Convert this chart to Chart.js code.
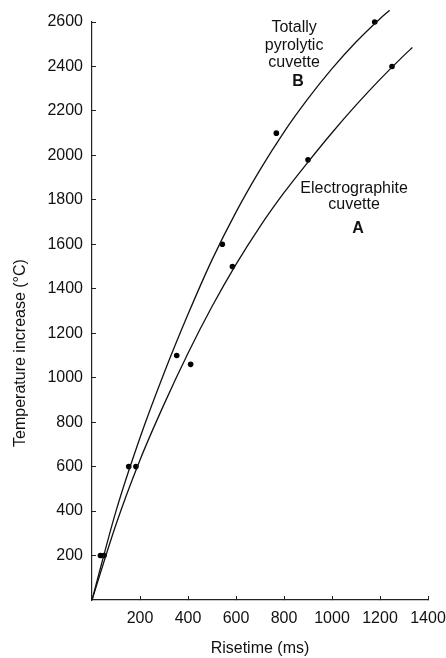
<!DOCTYPE html>
<html>
<head>
<meta charset="utf-8">
<script src="https://cdn.jsdelivr.net/npm/chart.js@4"></script>
<style>
  body { margin: 0; background: #fff; }
  #wrap { width: 446px; height: 658px; }
</style>
</head>
<body>
<div id="wrap"><canvas id="myChart"></canvas></div>
<script>
// measured points (risetime ms, temperature increase °C)
var riseB = [35, 153, 353, 543, 768, 1178];
var tempB = [200, 600, 1100, 1600, 2100, 2600];
var riseA = [50, 183, 411, 585, 900, 1250];
var tempA = [200, 600, 1060, 1500, 1980, 2400];

// fitted curves
var curveBx = [0, 100, 200, 300, 400, 500, 600, 700, 800, 900, 1000, 1100, 1200, 1240];
var curveBy = [0, 400, 730, 1020, 1285, 1530, 1745, 1935, 2105, 2255, 2390, 2510, 2615, 2653];
var curveAx = [0, 100, 200, 300, 400, 500, 600, 700, 800, 900, 1000, 1100, 1200, 1300, 1335];
var curveAy = [0, 340, 630, 880, 1110, 1320, 1510, 1680, 1832, 1970, 2102, 2226, 2342, 2450, 2485];

var xTicks = [200, 400, 600, 800, 1000, 1200, 1400];
var yTicks = [200, 400, 600, 800, 1000, 1200, 1400, 1600, 1800, 2000, 2200, 2400, 2600];

var toPts = function (xs, ys) {
  return xs.map(function (x, i) { return {x: x, y: ys[i]}; });
};

var FONT = "'Liberation Sans', Arial, Helvetica, sans-serif";
Chart.defaults.font.family = FONT;
Chart.defaults.color = "#111";

// labels drawn on the plot
var notes = [
  {text: "Totally", x: 842, y: 2575, bold: false},
  {text: "pyrolytic", x: 842, y: 2495, bold: false},
  {text: "cuvette", x: 842, y: 2418, bold: false},
  {text: "B", x: 858, y: 2333, bold: true},
  {text: "Electrographite", x: 1092, y: 1850, bold: false},
  {text: "cuvette", x: 1092, y: 1778, bold: false},
  {text: "A", x: 1108, y: 1670, bold: true}
];

var textPlugin = {
  id: "texts",
  afterDraw: function (chart) {
    var ctx = chart.ctx;
    var sx = chart.scales.x, sy = chart.scales.y;
    ctx.save();
    ctx.fillStyle = "#111";
    ctx.textAlign = "center";
    ctx.textBaseline = "middle";
    notes.forEach(function (n) {
      ctx.font = (n.bold ? "bold " : "") + "16px " + FONT;
      ctx.fillText(n.text, sx.getPixelForValue(n.x), sy.getPixelForValue(n.y));
    });
    // y axis title
    ctx.font = "16px " + FONT;
    ctx.translate(21, 353);
    ctx.rotate(-Math.PI / 2);
    ctx.fillText("Temperature increase (\u00B0C)", 0, 0);
    ctx.restore();
  }
};

var plain = function (v) { return String(v); };

new Chart("myChart", {
  type: "scatter",
  data: {
    datasets: [
      {
        data: toPts(curveBx, curveBy),
        showLine: true,
        borderColor: "#111",
        borderWidth: 1.3,
        pointRadius: 0,
        cubicInterpolationMode: "monotone",
        clip: false
      },
      {
        data: toPts(curveAx, curveAy),
        showLine: true,
        borderColor: "#111",
        borderWidth: 1.3,
        pointRadius: 0,
        cubicInterpolationMode: "monotone",
        clip: false
      },
      {
        data: toPts(riseB, tempB),
        backgroundColor: "#000",
        borderWidth: 0,
        pointRadius: 2.8,
        clip: false
      },
      {
        data: toPts(riseA, tempA),
        backgroundColor: "#000",
        borderWidth: 0,
        pointRadius: 2.8,
        clip: false
      }
    ]
  },
  options: {
    responsive: true,
    maintainAspectRatio: false,
    animation: false,
    layout: {padding: {top: 22, right: 18, left: 0, bottom: 0}},
    plugins: {legend: {display: false}, tooltip: {enabled: false}},
    scales: {
      x: {
        type: "linear",
        min: 0,
        max: 1400,
        afterBuildTicks: function (s) { s.ticks = xTicks.map(function (v) { return {value: v}; }); },
        afterFit: function (s) { s.height = 58; s.paddingRight = 0; s.paddingLeft = 0; },
        ticks: {font: {size: 16}, padding: 13, maxRotation: 0, color: "#111", callback: plain},
        grid: {drawOnChartArea: false, tickLength: -4, color: "#222"},
        border: {color: "#222", width: 1.2},
        title: {display: true, text: "Risetime (ms)", font: {size: 16}, color: "#111", padding: {top: 0, bottom: 0}}
      },
      y: {
        type: "linear",
        min: 0,
        max: 2600,
        afterBuildTicks: function (s) { s.ticks = yTicks.map(function (v) { return {value: v}; }); },
        afterFit: function (s) { s.width = 92; s.paddingTop = 0; s.paddingBottom = 0; },
        ticks: {font: {size: 16}, padding: 13, color: "#111", callback: plain},
        grid: {drawOnChartArea: false, tickLength: -4, color: "#222"},
        border: {color: "#222", width: 1.2}
      }
    }
  },
  plugins: [textPlugin]
});
</script>
</body>
</html>
